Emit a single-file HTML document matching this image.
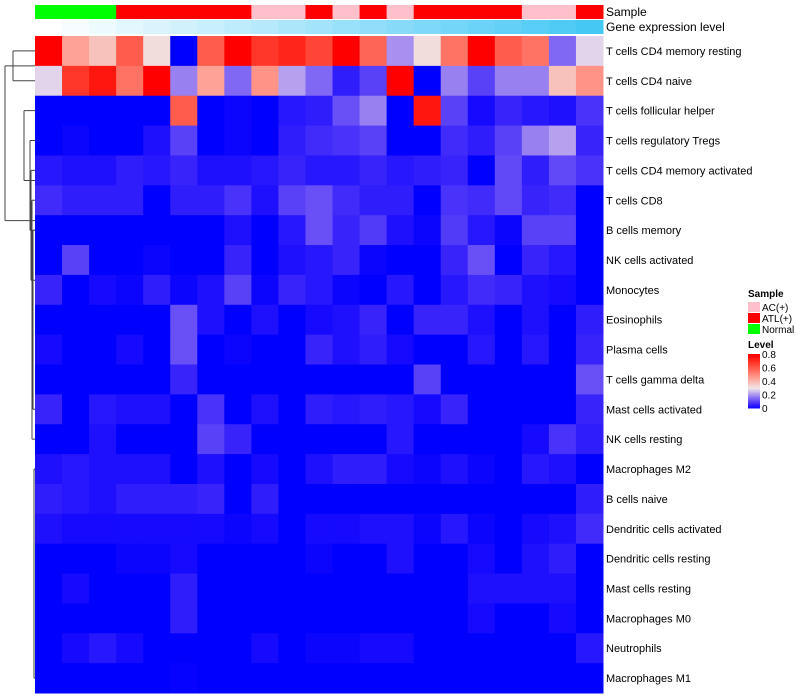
<!DOCTYPE html>
<html><head><meta charset="utf-8"><style>
body{margin:0;background:#fff;font-family:"Liberation Sans",sans-serif}
svg{display:block}
</style></head><body>
<svg id="c" width="800" height="700" xmlns="http://www.w3.org/2000/svg"></svg>
<script>
const rows=["T cells CD4 memory resting","T cells CD4 naive","T cells follicular helper","T cells regulatory  Tregs","T cells CD4 memory activated","T cells CD8","B cells memory","NK cells activated","Monocytes","Eosinophils","Plasma cells","T cells gamma delta","Mast cells activated","NK cells resting","Macrophages M2","B cells naive","Dendritic cells activated","Dendritic cells resting","Mast cells resting","Macrophages M0","Neutrophils","Macrophages M1"];
const sampleGroups=["Normal","Normal","Normal","ATL","ATL","ATL","ATL","ATL","AC","AC","ATL","AC","ATL","AC","ATL","ATL","ATL","ATL","AC","AC","ATL"];
const geneLevel=[0,1,2,3,4,5,6,7,8,9,10,11,12,13,14,15,16,17,18,19,20];
const levelTicks=[0,0.2,0.4,0.6,0.8];
const values=[
[.8,.45,.38,.6,.32,0,.6,.8,.68,.72,.65,.8,.58,.2,.32,.55,.8,.6,.55,.15,.28],
[.28,.68,.75,.55,.8,.18,.45,.15,.48,.22,.15,.05,.1,.8,0,.18,.1,.18,.18,.38,.48],
[0,0,0,0,0,.6,0,.01,0,.04,.05,.12,.18,0,.75,.1,.02,.06,.04,.03,.08],
[0,.01,0,0,.03,.1,0,.01,0,.05,.07,.08,.1,0,0,.07,.05,.1,.18,.22,.06],
[.04,.03,.03,.05,.04,.06,.03,.03,.04,.06,.04,.04,.06,.04,.05,.06,0,.11,.05,.11,.08],
[.07,.05,.05,.05,0,.05,.05,.08,.03,.1,.12,.07,.05,.05,0,.08,.07,.11,.06,.07,0],
[0,0,0,0,0,0,0,.03,0,.04,.12,.06,.09,.03,.01,.09,.04,.01,.1,.1,0],
[0,.1,0,0,.01,0,0,.06,0,.03,.04,.06,.01,0,0,.06,.12,0,.06,.04,0],
[.06,0,.02,.01,.05,.01,.03,.1,.01,.06,.04,.01,0,.04,0,.04,.07,.06,.03,.02,0],
[0,0,0,0,0,.12,.03,0,.03,0,.02,.03,.06,0,.06,.06,.03,0,.03,0,.05],
[.02,0,0,.02,0,.12,0,.01,0,0,.06,.03,.05,.02,0,0,.04,0,.04,0,.06],
[0,0,0,0,0,.06,0,0,0,0,0,0,0,0,.1,0,0,0,0,0,.12],
[.06,0,.04,.03,.03,0,.08,0,.03,0,.05,.04,.05,.04,.02,.06,0,0,0,0,.06],
[0,0,.03,0,0,0,.1,.06,0,0,0,0,0,.04,0,0,0,0,.02,.08,.05],
[.03,.04,.03,.03,.03,0,.03,0,.02,0,.03,.05,.05,.02,.01,.03,.01,0,.04,.03,0],
[.05,.04,.03,.05,.05,.05,.06,0,.05,0,0,0,0,0,0,0,0,0,0,0,.05],
[.03,.02,.02,.02,.02,.02,.02,.01,.02,0,.02,.02,.03,.03,.01,.04,.01,0,.02,.03,.07],
[0,0,0,.01,.01,.02,0,0,0,0,.01,0,0,.03,0,0,.02,0,.03,.05,0],
[0,.02,0,0,0,.05,0,0,0,0,0,0,0,0,0,0,.03,.03,.03,.03,0],
[0,0,0,0,0,.05,0,0,0,0,0,0,0,0,0,0,.02,0,0,.02,0],
[0,.02,.04,.02,0,0,0,0,.02,0,.01,.01,.02,.02,0,0,0,0,0,0,.04],
[0,0,0,0,0,.005,0,0,0,0,0,0,0,0,0,0,0,0,0,0,0]];
const groupColor={Normal:"#00ff00",ATL:"#ff0000",AC:"#ffc0cb"};
const svg=document.getElementById('c');
const NS="http://www.w3.org/2000/svg";
const X0=35,X1=603,Y0=36,Y1=693;
const nC=values[0].length,nR=rows.length;
const cw=(X1-X0)/nC,rh=(Y1-Y0)/nR;
const xPos=i=>X0+i*cw, yPos=j=>Y0+j*rh;
function col(v){
  const w=[240,230,232];let r,g,b;
  if(v<=0.3){const t=v/0.3;r=w[0]*Math.pow(t,0.9);g=w[1]*Math.pow(t,1.15);b=255+(w[2]-255)*t;}
  else{const t=Math.min(1,(v-0.3)/0.5);r=w[0]+(255-w[0])*Math.min(1,t*3);g=w[1]*(1-t);b=w[2]*Math.pow(1-t,1.2);}
  return `rgb(${Math.round(r)},${Math.round(g)},${Math.round(b)})`;
}
function mk(tag,attrs){const e=document.createElementNS(NS,tag);for(const k in attrs)e.setAttribute(k,attrs[k]);svg.appendChild(e);return e;}
sampleGroups.forEach((g,i)=>{
  const r=mk('rect',{x:xPos(i),y:5,width:cw+0.5,height:14,fill:groupColor[g]});
  
  
});
geneLevel.forEach((v,i)=>{
  const t=v/(geneLevel.length-1);
  const c=`rgb(${Math.round(255-185*t)},${Math.round(255-55*t)},${Math.round(255-10*t)})`;
  const r=mk('rect',{x:xPos(i),y:20,width:cw+0.5,height:14,fill:c});
  
  
});
values.forEach((row,j)=>row.forEach((v,i)=>{
  const r=mk('rect',{x:xPos(i),y:yPos(j),width:cw+0.5,height:rh+0.5,fill:col(v)});
  
  
}));
rows.forEach((n,j)=>{
  const t=mk('text',{x:606,y:yPos(j)+rh/2+4,'font-size':11,fill:'#000'});t.textContent=n;
  
  
});
let t=mk('text',{x:606,y:16,'font-size':12});t.textContent="Sample";


t=mk('text',{x:606,y:31,'font-size':12});t.textContent="Gene expression level";


const cy=j=>yPos(j)+rh/2;
const dl=[
 [13,cy(0),cy(1)],[24,cy(2),cy(3)+40],[30,cy(3),cy(4)+60],[31,cy(4),cy(5)+80],
 [32,cy(5),cy(13)],[33,cy(6),cy(12)],[34,cy(14),cy(21)],[5,(cy(0)+cy(1))/2,cy(2)+110]];
const dg=document.createElementNS(NS,'g');svg.appendChild(dg);
const p=[];
dl.forEach(([x,a,b])=>{p.push(`M${x} ${a}V${b}`);p.push(`M${x} ${a}H35M${x} ${b}H35`);});
const path=document.createElementNS(NS,'path');path.setAttribute('d',p.join(''));path.setAttribute('stroke','#444');path.setAttribute('fill','none');path.setAttribute('stroke-width','1');dg.appendChild(path);
t=mk('text',{x:748,y:297,'font-size':10,'font-weight':'bold'});t.textContent="Sample";

[["AC(+)","AC"],["ATL(+)","ATL"],["Normal","Normal"]].forEach(([lab,g],k)=>{
  const r=mk('rect',{x:748,y:302+k*11,width:12,height:10,fill:groupColor[g]});
  
  const tx=mk('text',{x:762,y:311+k*11,'font-size':10});tx.textContent=lab;
  
});
t=mk('text',{x:748,y:348,'font-size':10,'font-weight':'bold'});t.textContent="Level";

const LT=354,LB=408;
for(let k=0;k<40;k++){
  const v=0.8*(1-k/40);
  const r=mk('rect',{x:748,y:LT+k*(LB-LT)/40,width:12,height:(LB-LT)/40+0.5,fill:col(v)});
  
}
levelTicks.forEach(v=>{
  const y=LB-(v/0.8)*(LB-LT);
  const tx=mk('text',{x:762,y:y+4,'font-size':10});tx.textContent=String(v);
  
});
</script>
</body></html>
